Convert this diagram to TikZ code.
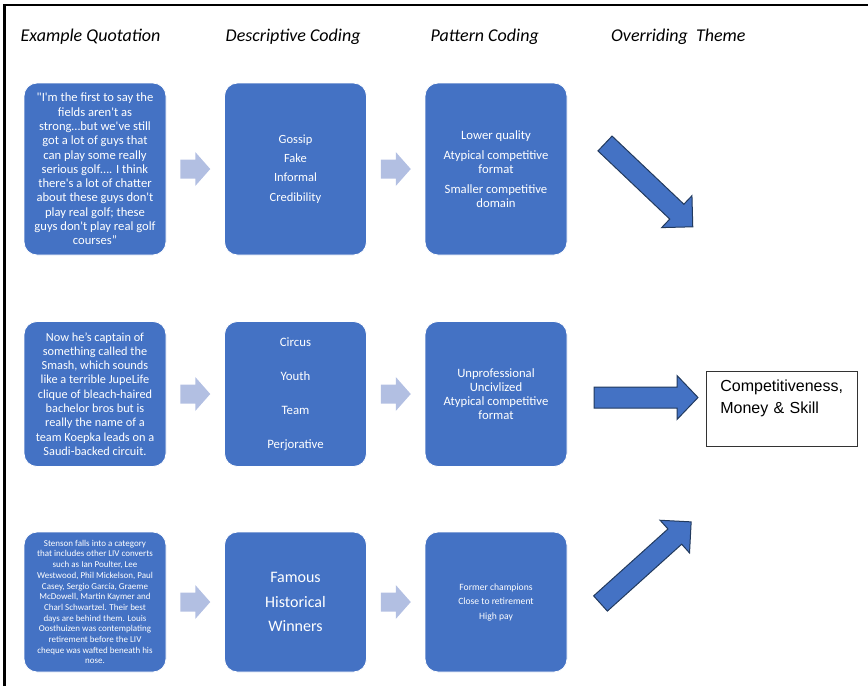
\documentclass[tikz,border=0pt]{standalone}
\usepackage{fontspec}
\setmainfont{Carlito}[Ligatures=TeXOff]
\newfontfamily\arialfont{Liberation Sans}
\usetikzlibrary{calc}
\definecolor{boxblue}{HTML}{4472C4}
\definecolor{hintfill}{HTML}{B2BFE2}
\definecolor{arrowline}{HTML}{223A5E}
\newcommand{\fsz}[2]{\fontsize{#1}{#2}\selectfont}
\tikzset{
 every node/.append style={align=center},
 card/.style={draw=white,fill=boxblue,rounded corners=13pt,line width=.8pt,text=white,minimum width=142pt,inner sep=2pt},
 head/.style={font=\fsz{18}{21}\itshape,inner sep=0pt,anchor=base west},
 hint/.style={fill=hintfill,draw=none},
 push/.style={fill=boxblue,draw=arrowline,line width=1pt,line join=miter},
 themebox/.style={draw=black!80,line width=.7pt,fill=white,align=left,font=\arialfont\fsz{16}{22},anchor=north west,text width=123pt,inner xsep=14pt,inner ysep=8.5pt,text height=11.7pt,text depth=46pt},
 frame/.style={draw=black,line width=2.5pt},
}

\begin{document}
\begin{tikzpicture}[x=1pt,y=-1pt]

\useasboundingbox (0,0) rectangle (868,686);
\draw[frame] (4.5,686) -- (4.5,5) -- (868,5);
% column titles
\node[head] (hquote) at (20.5,41) {Example Quotation};
\node[head] (hdesc) at (225.5,41) {Descriptive Coding};
\node[head] (hpattern) at (430.5,41) {Pattern Coding};
\node[head] (htheme) at (611,41) {Overriding\ \ Theme};
% first row
\node[card,minimum height=172pt,font=\fsz{12.6}{14.3}] (quote1) at (95,169) {"I'm the first to say the\\fields aren't as\\strong…but we've still\\got a lot of guys that\\can play some really\\serious golf…. I think\\there's a lot of chatter\\about these guys don't\\play real golf; these\\guys don't play real golf\\courses”};
\node[card,minimum height=172pt,font=\fsz{12.5}{19.3}] (desc1) at (295.5,169) {Gossip\\Fake\\Informal\\Credibility};
\node[card,minimum height=172pt,font=\fsz{12.7}{14}] (pattern1) at (496,169) {Lower quality\\[6pt]Atypical competitive\\format\\[6pt]Smaller competitive\\domain};
% second row
\node[card,minimum height=145pt,font=\fsz{12.3}{14.3}] (quote2) at (95,394) {Now he’s captain of\\something called the\\Smash, which sounds\\like a terrible JupeLife\\clique of bleach-haired\\bachelor bros but is\\really the name of a\\team Koepka leads on a\\Saudi-backed circuit.};
\node[card,minimum height=145pt,font=\fsz{12.8}{34}] (desc2) at (295.5,394) {Circus\\Youth\\Team\\Perjorative};
\node[card,minimum height=145pt,font=\fsz{12.7}{14}] (pattern2) at (496,394) {Unprofessional\\Uncivlized\\Atypical competitive\\format};
% third row
\node[card,minimum height=140pt,font=\fsz{9}{10.7}] (quote3) at (95,602) {Stenson falls into a category\\that includes other LIV converts\\such as Ian Poulter, Lee\\Westwood, Phil Mickelson, Paul\\Casey, Sergio García, Graeme\\McDowell, Martin Kaymer and\\Charl Schwartzel. Their best\\days are behind them. Louis\\Oosthuizen was contemplating\\retirement before the LIV\\cheque was wafted beneath his\\nose.};
\node[card,minimum height=140pt,font=\fsz{16}{24.5}] (desc3) at (295.5,602) {Famous\\Historical\\Winners};
\node[card,minimum height=140pt,font=\fsz{9.6}{14.5}] (pattern3) at (496,602) {Former champions\\Close to retirement\\High pay};
% light arrows between the columns
\foreach \r in {1,2,3}{
 \fill[hint,shift={($(quote\r.east)!.5!(desc\r.west)$)}] (-15,9.5) -- (0,9.5) -- (0,17) -- (15,0) -- (0,-17) -- (0,-9.5) -- (-15,-9.5) -- cycle;
 \fill[hint,shift={($(desc\r.east)!.5!(pattern\r.west)$)}] (-15,9.5) -- (0,9.5) -- (0,17) -- (15,0) -- (0,-17) -- (0,-9.5) -- (-15,-9.5) -- cycle;
}
% theme
\node[themebox] (theme) at (706,371) {Competitiveness,\\Money \& Skill};
\coordinate (tail1) at (605,143.5);
\coordinate (tail2) at (594,397.5);
\coordinate (tail3) at (600.5,603.5);
\draw[push,shift={(tail1)},rotate=-43.5] (0,10.25) -- (99,10.25) -- (99,22) -- (121,0) -- (99,-22) -- (99,-10.25) -- (0,-10.25) -- cycle;
\draw[push,shift={(tail2)}] (0,10.5) -- (83,10.5) -- (83,22) -- (104,0) -- (83,-22) -- (83,-10.5) -- (0,-10.5) -- cycle;
\draw[push,shift={(tail3)},rotate=42] (0,10.25) -- (100,10.25) -- (100,22) -- (122,0) -- (100,-22) -- (100,-10.25) -- (0,-10.25) -- cycle;

\end{tikzpicture}
\end{document}
